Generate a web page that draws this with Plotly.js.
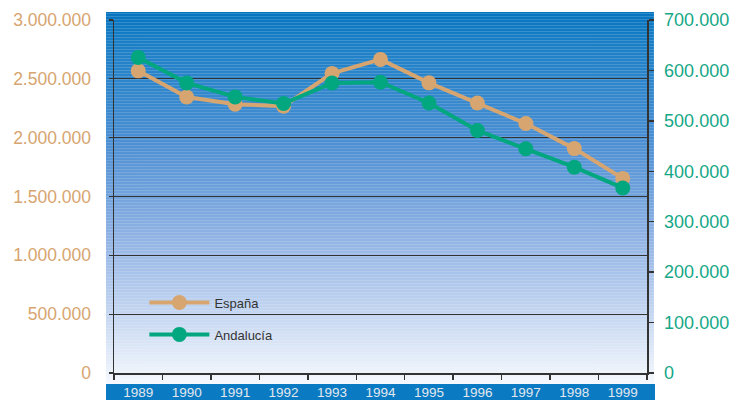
<!DOCTYPE html>
<html>
<head>
<meta charset="utf-8">
<script src="https://cdn.plot.ly/plotly-3.0.1.min.js"></script>
<style>html,body{margin:0;padding:0;background:#fff;}#chart{width:740px;height:400px;}</style>
</head>
<body>
<div id="chart"></div>
<script>
// Data
var years = ['1989','1990','1991','1992','1993','1994','1995','1996','1997','1998','1999'];
var espana = [2568000, 2346000, 2284000, 2267000, 2546000, 2665000, 2466000, 2295000, 2120000, 1907000, 1654000];
var andalucia = [625800, 575300, 547500, 534300, 575000, 576700, 535500, 481000, 444600, 408200, 367000];
var seriesNames = ['España', 'Andalucía'];

// Background gradient with horizontal stripes
function makeBg() {
  var c = document.createElement('canvas');
  c.width = 548; c.height = 372;
  var g = c.getContext('2d');
  var grd = g.createLinearGradient(0, 0, 0, c.height);
  grd.addColorStop(0, '#0674bf');
  grd.addColorStop(0.08, '#1a7fc6');
  grd.addColorStop(0.35, '#4c8fd3');
  grd.addColorStop(0.6, '#8fb2e4');
  grd.addColorStop(0.82, '#c7d8f2');
  grd.addColorStop(1, '#f6f9fe');
  g.fillStyle = grd;
  g.fillRect(0, 0, c.width, c.height);
  for (var y = 1; y < c.height; y += 3) {
    g.fillStyle = 'rgba(255,255,255,0.16)';
    g.fillRect(0, y, c.width, 1);
  }
  return c.toDataURL('image/png');
}

var orange = '#d7a56f';
var green = '#03a77f';

var traces = [
  {
    x: years, y: espana, name: seriesNames[0], type: 'scatter', mode: 'lines+markers',
    yaxis: 'y', legendgroup: 'a',
    line: {color: orange, width: 4},
    marker: {color: orange, size: 15}
  },
  {
    x: years, y: andalucia, name: seriesNames[1], type: 'scatter', mode: 'lines+markers',
    yaxis: 'y2', legendgroup: 'b',
    line: {color: green, width: 4},
    marker: {color: green, size: 15}
  }
];

var fontFam = '"Liberation Sans", Arial, sans-serif';

var layout = {
  width: 740, height: 400,
  margin: {l: 114, r: 93, t: 20, b: 27, pad: 0},
  paper_bgcolor: '#ffffff',
  plot_bgcolor: 'rgba(0,0,0,0)',
  separators: ',.',
  showlegend: true,
  legend: {
    x: 0.057, y: 0.242, xanchor: 'left', yanchor: 'top',
    bgcolor: 'rgba(0,0,0,0)', traceorder: 'grouped', tracegroupgap: 12,
    itemwidth: 60,
    font: {family: fontFam, size: 13, color: '#333333'}
  },
  xaxis: {
    type: 'category', range: [-0.5, 10.5], tickson: 'boundaries',
    showgrid: false, zeroline: false,
    showline: true, linecolor: '#333', linewidth: 1.5,
    ticks: 'outside', ticklen: 5, tickcolor: '#333', tickwidth: 1.5,
    tickfont: {family: fontFam, size: 13.5, color: '#e4e8ee'},
    ticklabelstandoff: 6,
    fixedrange: true
  },
  yaxis: {
    range: [0, 3000000], dtick: 500000, tick0: 0, tickformat: ',d',
    showgrid: true, gridcolor: '#333', gridwidth: 1.3,
    zeroline: false, showline: true, linecolor: '#333', linewidth: 1.5,
    ticks: 'outside', ticklen: 4, tickcolor: '#333', tickwidth: 1.3,
    tickfont: {family: fontFam, size: 17.5, color: '#d7a56f'},
    ticklabelstandoff: 14,
    fixedrange: true
  },
  yaxis2: {
    overlaying: 'y', side: 'right', anchor: 'x',
    range: [0, 700000], dtick: 100000, tick0: 0, tickformat: ',d',
    showgrid: false, zeroline: false, showline: true, linecolor: '#333', linewidth: 1.5,
    ticks: 'outside', ticklen: 5, tickcolor: '#333', tickwidth: 1.3,
    tickfont: {family: fontFam, size: 18, color: '#16a787'},
    ticklabelstandoff: 7,
    fixedrange: true
  },
  images: [{
    source: makeBg(), xref: 'paper', yref: 'paper',
    x: -0.015, y: 1.0227, sizex: 1.028, sizey: 1.054,
    xanchor: 'left', yanchor: 'top', sizing: 'stretch', layer: 'below'
  }],
  shapes: [{
    type: 'rect', xref: 'paper', yref: 'paper', layer: 'below',
    x0: -0.015, x1: 1.015, y0: -0.077, y1: -0.031,
    fillcolor: '#0a7bc3', line: {width: 0}
  }]
};

Plotly.newPlot('chart', traces, layout, {displayModeBar: false, staticPlot: true});
</script>
</body>
</html>
